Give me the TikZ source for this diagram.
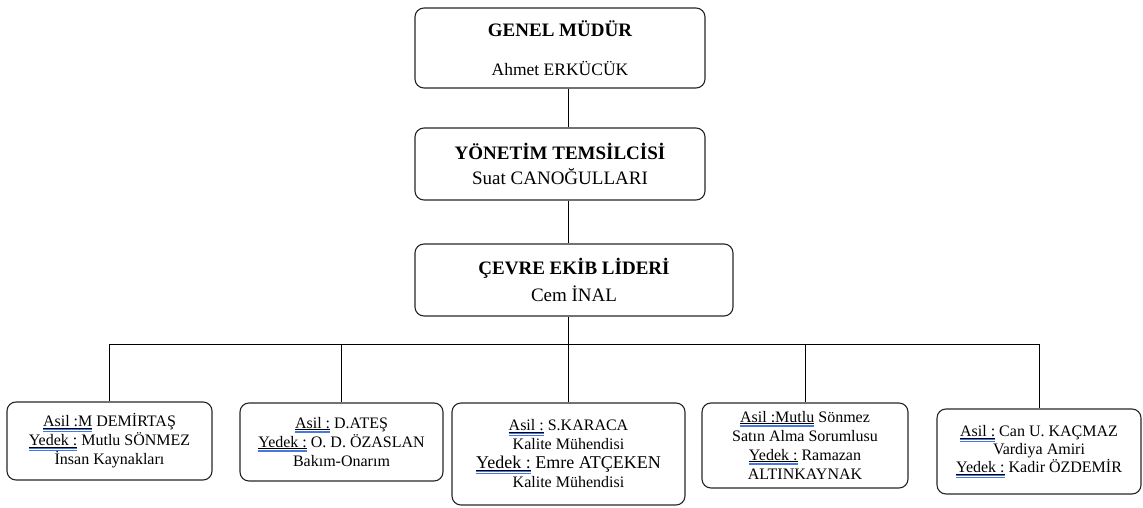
\documentclass[tikz,border=0pt]{standalone}
\usepackage{fontspec}
\setmainfont{Liberation Serif}
\definecolor{ublue}{RGB}{70,120,225}
\newcommand\ulmark[1]{\setbox0\hbox{#1}\rlap{\rule[-1.6pt]{\wd0}{0.7pt}}\rlap{\textcolor{ublue}{\rule[-3.2pt]{\wd0}{0.9pt}}}\rlap{\textcolor{ublue}{\rule[-4.8pt]{\wd0}{0.9pt}}}\box0\relax}
\tikzset{
  box/.style={draw=black!85, line width=1.1pt, rounded corners=9pt, align=center, inner sep=0pt, font=\fontsize{16}{19}\selectfont},
  conn/.style={draw=black, line width=1pt}
}
\begin{document}
\begin{tikzpicture}[x=1pt,y=-1pt]
\useasboundingbox (0,0) rectangle (1143,508);
\node[box, minimum width=290pt, minimum height=80pt, font=\fontsize{17.5}{39}\selectfont] (gm) at (560,48)
  {{\fontsize{19}{39}\selectfont\bfseries GENEL MÜDÜR}\\Ahmet ERKÜCÜK};
\node[box, minimum width=290pt, minimum height=72pt, font=\fontsize{19}{25}\selectfont] (yt) at (560,164)
  {{\bfseries YÖNETİM TEMSİLCİSİ}\\Suat CANOĞULLARI};
\node[box, minimum width=318pt, minimum height=72pt, font=\fontsize{19}{27}\selectfont] (cl) at (574,280)
  {{\bfseries ÇEVRE EKİB LİDERİ}\\Cem İNAL};

\node[box, minimum width=205pt, minimum height=78pt] (a) at (109.5,441)
  {\ulmark{Asil :M} DEMİRTAŞ\\\ulmark{Yedek :} Mutlu SÖNMEZ\\İnsan Kaynakları};
\node[box, minimum width=203pt, minimum height=78pt] (b) at (341.5,442)
  {\ulmark{Asil :} D.ATEŞ\\\ulmark{Yedek :} O. D. ÖZASLAN\\Bakım-Onarım};
\node[box, minimum width=233pt, minimum height=102pt] (c) at (568.5,454)
  {\ulmark{Asil :} S.KARACA\\Kalite Mühendisi\\{\fontsize{18}{19}\selectfont\ulmark{Yedek :} Emre ATÇEKEN}\\Kalite Mühendisi};
\node[box, minimum width=206pt, minimum height=85pt] (d) at (805,445.5)
  {\ulmark{Asil :Mutlu} Sönmez\\Satın Alma Sorumlusu\\\ulmark{Yedek :} Ramazan\\ALTINKAYNAK};
\node[box, minimum width=204pt, minimum height=85pt, font=\fontsize{16}{18}\selectfont] (e) at (1039,451.5)
  {\ulmark{Asil :} Can U. KAÇMAZ\\Vardiya Amiri\\\ulmark{Yedek :} Kadir ÖZDEMİR};

\coordinate (bus) at (568,344);
\draw[conn] (gm.south -| bus) -- (yt.north -| bus);
\draw[conn] (yt.south -| bus) -- (cl.north -| bus);
\draw[conn] (cl.south -| bus) -- (bus);
\draw[conn] (a.north) -- (a.north |- bus) -- (e.north |- bus) -- (e.north);
\foreach \n in {b,c,d} \draw[conn] (\n.north) -- (\n.north |- bus);
\end{tikzpicture}
\end{document}
